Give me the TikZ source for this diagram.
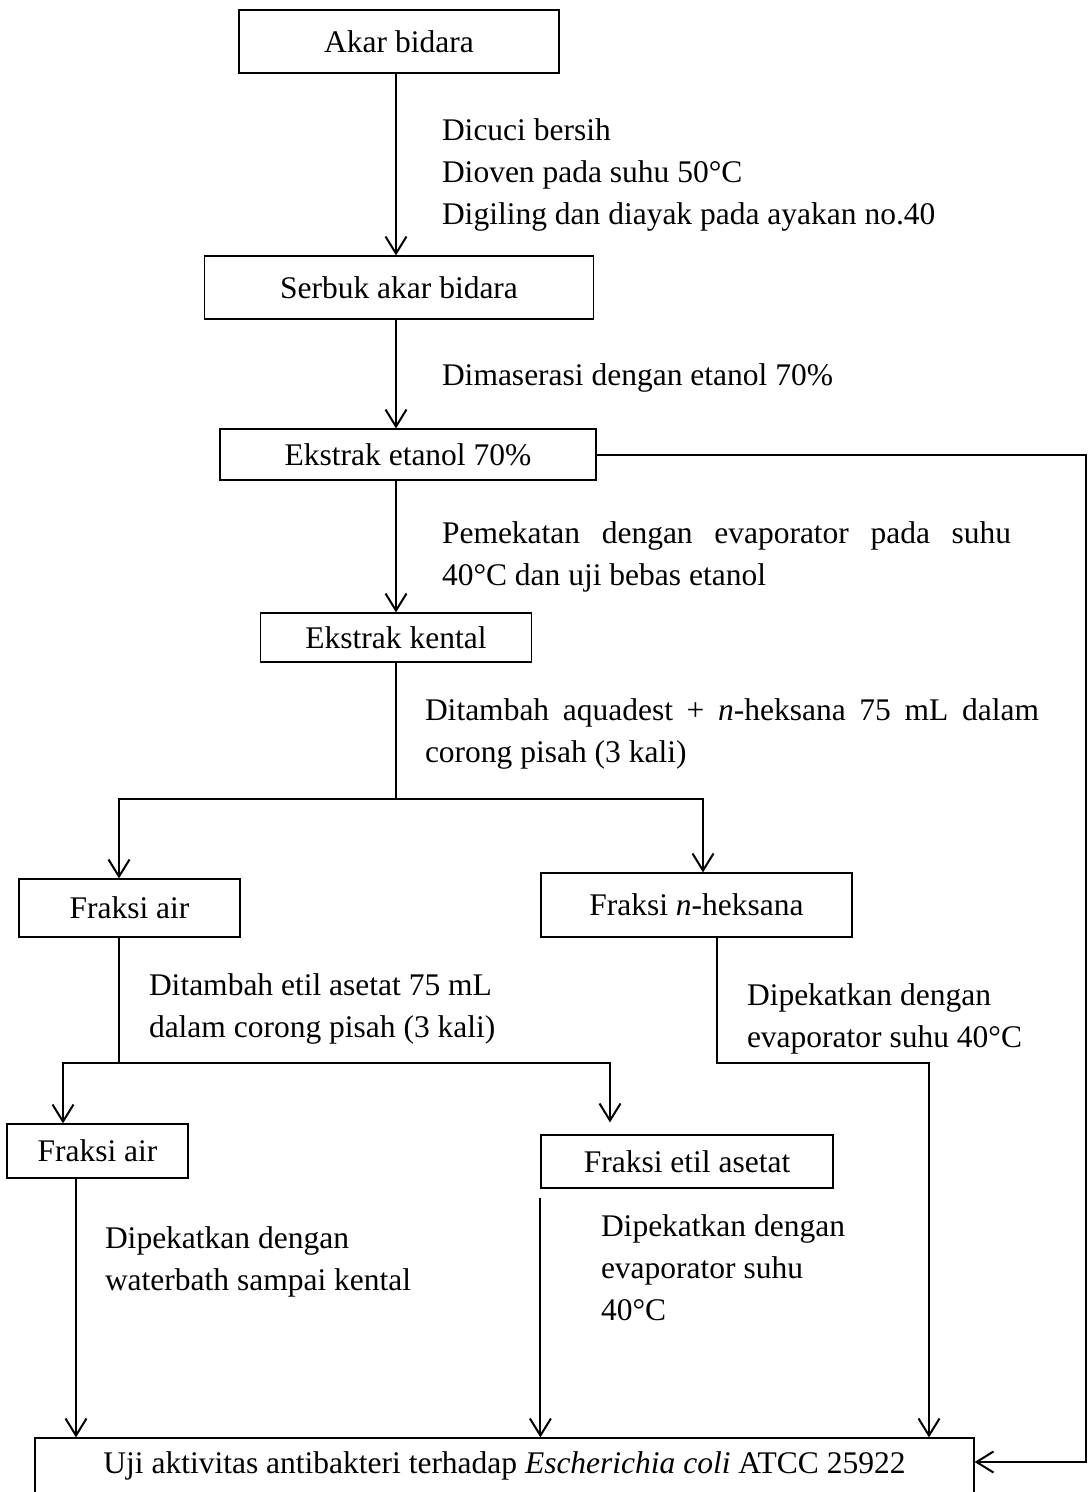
\documentclass[tikz,border=0pt]{standalone}
\usepackage{fontspec}
\setmainfont{Liberation Serif}
\usetikzlibrary{arrows.meta}

\begin{document}
\begin{tikzpicture}[
  x=1pt, y=-1pt,
  line width=2pt,
  font=\fontsize{31.5}{42}\selectfont,
  box/.style={
    draw,
    rectangle,
    line width=1.2pt,
    inner sep=0pt
  },
  lbl/.style={
    anchor=base west,
    align=left,
    inner sep=0pt
  },
  arr/.style={-{Straight Barb[length=17pt,width=21pt]}}
]
  \useasboundingbox (0,0) rectangle (1088,1492);

  \node[box, minimum width=320pt, minimum height=63pt] (A) at (399,41.5)   {Akar bidara};
  \node[box, minimum width=389pt, minimum height=63pt] (B) at (399,287.5)  {Serbuk akar bidara};
  \node[box, minimum width=376pt, minimum height=51pt] (C) at (408,454.5)  {Ekstrak etanol 70\%};
  \node[box, minimum width=271pt, minimum height=49pt] (D) at (396,637.5)  {Ekstrak kental};
  \node[box, minimum width=221pt, minimum height=58pt] (E) at (129.5,908)  {Fraksi air};
  \node[box, minimum width=311pt, minimum height=64pt] (F) at (696.5,905)  {Fraksi \textit{n}-heksana};
  \node[box, minimum width=181pt, minimum height=54pt] (G) at (97.5,1151)  {Fraksi air};
  \node[box, minimum width=292pt, minimum height=53pt] (H) at (687,1161.5) {Fraksi etil asetat};
  \node[box, minimum width=939pt, minimum height=56pt] (I) at (504.5,1466) {Uji aktivitas antibakteri terhadap \textit{Escherichia coli} ATCC 25922};

  % multi-line labels: base = last line
  \node[lbl] (L1) at (441,224)  {Dicuci bersih\\Dioven pada suhu 50°C\\Digiling dan diayak pada ayakan no.40};
  \node[lbl] (L2) at (441,385)  {Dimaserasi dengan etanol 70\%};
  \node[lbl, text width=569pt, align=justify] (L3) at (441,543) {Pemekatan dengan evaporator pada suhu\linebreak 40°C dan uji bebas etanol};
  \node[lbl, text width=614pt, align=justify] (L4) at (424,720) {Ditambah aquadest + \textit{n}-heksana 75 mL dalam\linebreak corong pisah (3 kali)};
  \node[lbl] (L5) at (148,1037) {Ditambah etil asetat 75 mL\\dalam corong pisah (3 kali)};
  \node[lbl] (L6) at (746,1047) {Dipekatkan dengan\\evaporator suhu 40°C};
  \node[lbl] (L7) at (600,1320) {Dipekatkan dengan\\evaporator suhu\\40°C};
  \node[lbl] (L8) at (104,1290) {Dipekatkan dengan\\waterbath sampai kental};

  \coordinate (s1)  at (396,799);
  \coordinate (s1l) at (119,799);
  \coordinate (s1r) at (703,799);
  \coordinate (s2)  at (119,1063);
  \coordinate (s2l) at (63,1063);
  \coordinate (s2r) at (610,1063);
  \coordinate (m1)  at (717,1063);
  \coordinate (m2)  at (929,1063);
  \coordinate (g)   at (76,1178);
  \coordinate (r)   at (1086,1462);
  \coordinate (k)   at (396,0);

  \draw[arr] (k |- A.south) -- (k |- B.north);
  \draw[arr] (k |- B.south) -- (k |- C.north);
  \draw[arr] (k |- C.south) -- (k |- D.north);
  \draw (k |- D.south) -- (s1);
  \draw[arr] (s1) -| (s1l |- E.north);
  \draw[arr] (s1) -| (s1r |- F.north);
  \draw (E.south -| s2) -- (s2);
  \draw[arr] (s2) -| (s2l |- G.north);
  \draw[arr, shorten >=12pt] (s2) -| (s2r |- H.north);
  \draw[arr] (F.south -| m1) -- (m1) -- (m2) -- (m2 |- I.north);
  \draw[arr] (g |- G.south) -- (g |- I.north);
  \draw[arr, shorten <=9pt] (H.south west) -- (H.south west |- I.north);
  \draw[arr] (C.east) -| (r) -- (r -| I.east);
\end{tikzpicture}
\end{document}
